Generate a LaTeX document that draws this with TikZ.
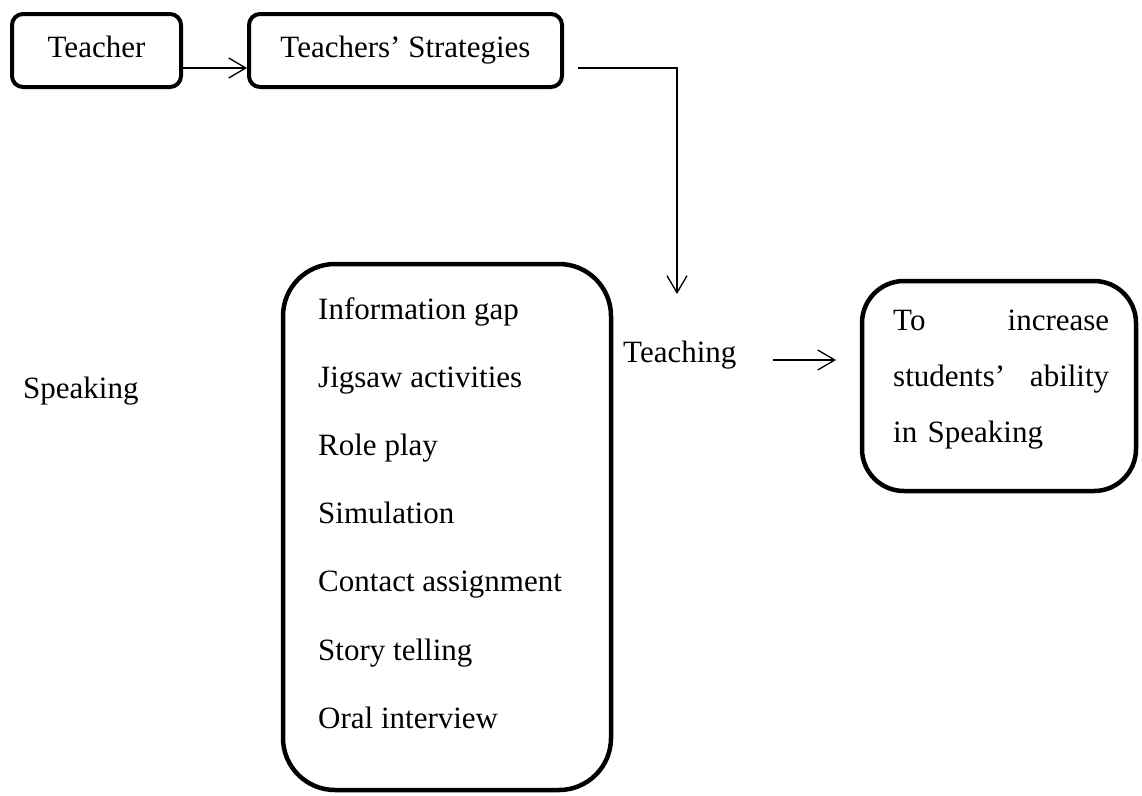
\documentclass[tikz,border=0pt]{standalone}
\usepackage{fontspec}
\setmainfont{Liberation Serif}
\usetikzlibrary{arrows.meta,calc}
\begin{document}
\begin{tikzpicture}[x=1pt,y=-1pt,
  every node/.style={font=\fontsize{31}{37}\selectfont},
  topbox/.style={draw,line width=4pt,rounded corners=11pt,minimum height=73pt,inner sep=0pt,text height=22pt,text depth=9pt},
  bigbox/.style={draw,line width=4.5pt,inner sep=0pt},
  plain/.style={inner sep=0pt,anchor=base west},
  conn/.style={line width=1.3pt},
  arr/.style={conn,-{Straight Barb[length=17pt,width=20pt]}}]
\useasboundingbox (0,0) rectangle (1142,795);
% top boxes
\node[topbox,minimum width=169pt] (teacher) at (96.5,50.5) {Teacher};
\node[topbox,minimum width=313pt] (strat) at (405.5,50.5) {Teachers’ Strategies};
% big list box
\node[bigbox,rounded corners=52pt,minimum width=328pt,minimum height=526pt] (ways) at (447,527) {};
\foreach \t [count=\i] in {Information gap,Jigsaw activities,Role play,Simulation,Contact assignment,Story telling,Oral interview}
  \node[plain] (item\i) at (318,{319+68.2*(\i-1)}) {\t};
% goal box
\node[bigbox,rounded corners=42pt,minimum width=274pt,minimum height=210pt] (goal) at (999,386) {};
\node[plain,align=left,text width=216pt,font=\fontsize{31}{56}\selectfont] (goaltext) at (893,330)
  {To\hfill increase\\students’\hfill ability\\in Speaking};
% labels
\node[plain] (speaking) at (23,398) {Speaking};
\node[plain] (teaching) at (623,362) {Teaching};
% connectors
\draw[arr] ($(teacher.east)+(0,17.5)$) -- ($(strat.west)+(0,17.5)$);
\draw[conn] ($(strat.south)+(13.5,0)$) -- ($(strat.south)+(13.5,0)$ |- ways.north);
\coordinate (tip) at (677,294);
\draw[arr] ($(strat.east)+(14,17.5)$) -| (tip);
\coordinate (ta) at (773,360);
\coordinate (tb) at (836,360);
\draw[arr] (ta) -- (tb);
\end{tikzpicture}
\end{document}
